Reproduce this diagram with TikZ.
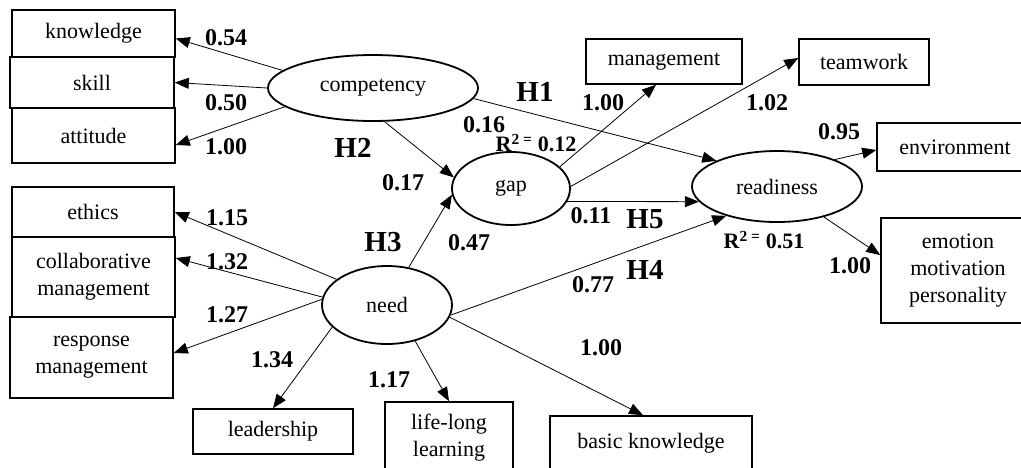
\documentclass[tikz,border=0pt]{standalone}
\usepackage{fontspec}
\setmainfont{Liberation Serif}
\usetikzlibrary{arrows.meta,shapes.geometric}
\newcommand\nodefnt{\fontsize{22}{27}\selectfont}
\newcommand\labfnt{\fontsize{24}{28}\selectfont\bfseries}
\newcommand\hypfnt{\fontsize{29}{32}\selectfont\bfseries}
\newcommand\rsqfnt{\fontsize{22}{26}\selectfont\bfseries}
\begin{document}
\begin{tikzpicture}[x=1pt,y=-1pt,
  box/.style={draw, line width=1.6pt, inner sep=0pt, align=center, font=\nodefnt},
  lat/.style={draw, ellipse, line width=1.8pt, inner sep=0pt, font=\nodefnt},
  conn/.style={-{Triangle[length=14pt,width=11pt]}, line width=0.8pt},
  lab/.style={font=\labfnt, inner sep=0pt},
  hyp/.style={font=\hypfnt, inner sep=0pt},
  rsq/.style={font=\rsqfnt, inner sep=0pt}]
\useasboundingbox (0,0) rectangle (1021,467);
\clip (0,0) rectangle (1021,467);
% indicator boxes
\node[box, minimum width=163pt, minimum height=47pt] (know) at (93.5,33.5) {knowledge};
\node[box, minimum width=164pt, minimum height=51pt] (skill) at (92,82.5) {skill};
\node[box, minimum width=163pt, minimum height=55pt] (att) at (93.5,135.5) {attitude};
\node[box, minimum width=162pt, minimum height=50pt] (eth) at (93,212) {ethics};
\node[box, minimum width=163pt, minimum height=80pt] (col) at (93.5,277) {collaborative\\management};
\node[box, minimum width=163pt, minimum height=81pt] (res) at (91.5,357.5) {response\\management};
\node[box, minimum width=160pt, minimum height=45pt] (lead) at (273,431.5) {leadership};
\node[box, minimum width=128pt, minimum height=71pt] (life) at (449,437.5) {life-long\\learning};
\node[box, minimum width=202pt, minimum height=54pt] (basic) at (651,443) {basic knowledge};
\node[box, minimum width=156pt, minimum height=45pt] (mgmt) at (664,61.5) {management};
\node[box, minimum width=130pt, minimum height=46pt] (team) at (864,62) {teamwork};
\node[box, minimum width=156pt, minimum height=48pt] (env) at (955,147) {environment};
\node[box, minimum width=154pt, minimum height=105pt] (emo) at (958,270.5) {emotion\\motivation\\personality};
% latent variables
\node[lat, minimum width=210pt, minimum height=66pt] (comp) at (373,88) {competency};
\node[lat, minimum width=118pt, minimum height=73pt] (gap) at (511,188.5) {gap};
\node[lat, minimum width=170pt, minimum height=71pt] (ready) at (777,186.5) {readiness};
\node[lat, minimum width=130pt, minimum height=78pt] (need) at (387,305) {need};
% connectors
\draw[conn] (comp.169) -- ([yshift=-5pt]know.east);
\draw[conn] (comp.180) -- (skill.east);
\draw[conn] (comp.192) -- ([yshift=-9.5pt]att.east);
\draw[conn] (comp.289) -- (gap.169);
\draw[conn] (comp.354) -- (ready.157);
\draw[conn] (gap.24) -- ([xshift=-8pt]mgmt.south);
\draw[conn] (gap.2) -- ([yshift=4pt]team.west);
\draw[conn] (gap.347) -- (ready.191);
\draw[conn] (ready.25) -- ([yshift=-3pt]env.west);
\draw[conn] (ready.327) -- ([yshift=15.5pt]emo.west);
\draw[conn] (need.153) -- (eth.east);
\draw[conn] (need.173) -- ([yshift=19pt]col.east);
\draw[conn] (need.175) -- ([yshift=4.5pt]res.east);
\draw[conn] (need.202) -- (lead.north);
\draw[conn] (need.308) -- (life.north);
\draw[conn] (need.349) -- ([xshift=-8pt]basic.north);
\draw[conn] (need.60) -- (gap.186);
\draw[conn] (need.351) -- (ready.210);
% coefficients
\node[lab] (c1) at (226,38) {0.54};
\node[lab] (c2) at (226,103) {0.50};
\node[lab] (c3) at (226,147) {1.00};
\node[lab] (c4) at (403,183) {0.17};
\node[lab] (c5) at (484,125) {0.16};
\node[lab] (c6) at (603,103) {1.00};
\node[lab] (c7) at (767,103) {1.02};
\node[lab] (c8) at (839,132) {0.95};
\node[lab] (c9) at (591,216) {0.11};
\node[lab] (c10) at (469,243) {0.47};
\node[lab] (c11) at (593,285) {0.77};
\node[lab] (c12) at (850,266) {1.00};
\node[lab] (c13) at (227,218) {1.15};
\node[lab] (c14) at (227,262) {1.32};
\node[lab] (c15) at (227,315) {1.27};
\node[lab] (c16) at (272,360) {1.34};
\node[lab] (c17) at (389,380) {1.17};
\node[lab] (c18) at (601,348) {1.00};
% hypotheses
\node[hyp] (h1) at (535,92) {H1};
\node[hyp] (h2) at (353,148) {H2};
\node[hyp] (h3) at (383,242) {H3};
\node[hyp] (h4) at (645,270) {H4};
\node[hyp] (h5) at (645,219) {H5};
% R squared
\node[rsq] (r1) at (536,143) {R\textsuperscript{2 =} 0.12};
\node[rsq] (r2) at (764,240) {R\textsuperscript{2 =} 0.51};
\end{tikzpicture}
\end{document}
